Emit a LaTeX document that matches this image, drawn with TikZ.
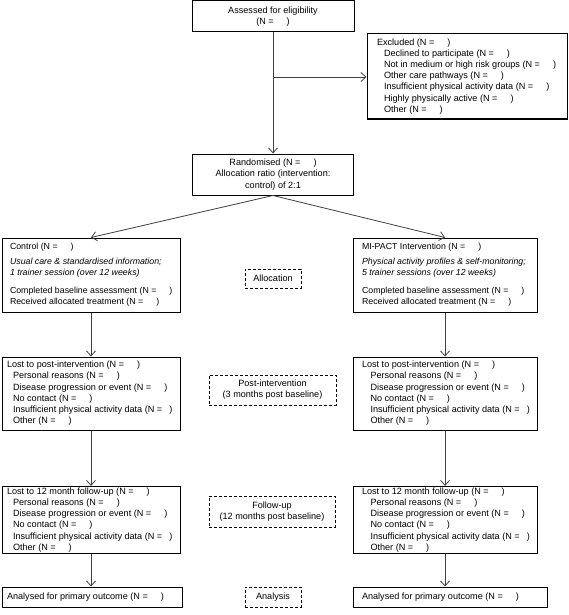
\documentclass[tikz,border=0pt]{standalone}
\usepackage{fontspec}
\setmainfont{Liberation Sans}
\usetikzlibrary{arrows.meta}
\newcommand{\Ngap}{(N =\hspace{13pt})}
\newcommand{\Nsm}{(N =\hspace{7pt})}
\newcommand{\indL}{\hspace*{6pt}}
\newcommand{\indR}{\hspace*{8.5pt}}
\newcommand{\bx}[2]{\makebox[#1][l]{\begin{tabular}{@{}l@{}}#2\end{tabular}}}
\begin{document}
\begin{tikzpicture}[x=1pt,y=-1pt,
 every node/.style={font=\fontsize{9.1}{11.2}\selectfont},
 box/.style={draw, line width=1pt, inner ysep=0pt, inner xsep=0pt},
 small/.style={font=\fontsize{8.8}{11}\selectfont},
 dbox/.style={draw, dash pattern=on 3pt off 2pt, line width=0.9pt, align=center, inner sep=0pt},
 conn/.style={draw=black!75, line width=0.8pt, -{Straight Barb[length=5pt,width=9pt]}},
]
\useasboundingbox (0,0) rectangle (568,615);

\node[box, align=center, minimum width=162pt, minimum height=31pt] (assess) at (273,16.5) {Assessed for eligibility\\\Ngap};

\node[box, inner xsep=10pt, minimum height=85pt] (excl) at (467,76.5)
 {\bx{180pt}{Excluded \Ngap\\\hspace*{7pt}Declined to participate \Ngap\\\hspace*{7pt}Not in medium or high risk groups \Ngap\\\hspace*{7pt}Other care pathways \Ngap\\\hspace*{7pt}Insufficient physical activity data \Ngap\\\hspace*{7pt}Highly physically active \Ngap\\\hspace*{7pt}Other \Ngap}};

\node[box, align=center, minimum width=161pt, minimum height=41pt] (rand) at (273,174.5)
 {Randomised \Ngap\\Allocation ratio (intervention:\\control) of 2:1};

\node[box, small, inner xsep=8pt, minimum height=74pt] (ctrl) at (91,275)
 {\bx{162pt}{Control \Ngap\\[3.5pt]\textit{Usual care \& standardised information;}\\\textit{1 trainer session (over 12 weeks)}\\[7.5pt]Completed baseline assessment \Ngap\\Received allocated treatment \Ngap}};

\node[box, small, inner xsep=9pt, minimum height=74pt] (mi) at (445,275)
 {\bx{166pt}{MI-PACT Intervention \Ngap\\[3.5pt]\textit{Physical activity profiles \& self-monitoring;}\\\textit{5 trainer sessions (over 12 weeks)}\\[7.5pt]Completed baseline assessment \Ngap\\Received allocated treatment \Ngap}};

\node[box, inner xsep=5pt, minimum height=73pt] (lpL) at (91,393.5)
 {\bx{168pt}{Lost to post-intervention \Ngap\\\indL Personal reasons \Ngap\\\indL Disease progression or event \Ngap\\\indL No contact \Ngap\\\indL Insufficient physical activity data \Nsm\\\indL Other \Ngap}};
\node[box, inner xsep=9pt, minimum height=73pt] (lpR) at (445,393.5)
 {\bx{166pt}{Lost to post-intervention \Ngap\\\indR Personal reasons \Ngap\\\indR Disease progression or event \Ngap\\\indR No contact \Ngap\\\indR Insufficient physical activity data \Nsm\\\indR Other \Ngap}};

\node[box, inner xsep=5pt, minimum height=66pt] (lfL) at (91,520)
 {\bx{168pt}{Lost to 12 month follow-up \Ngap\\\indL Personal reasons \Ngap\\\indL Disease progression or event \Ngap\\\indL No contact \Ngap\\\indL Insufficient physical activity data \Nsm\\\indL Other \Ngap}};
\node[box, inner xsep=9pt, minimum height=66pt] (lfR) at (445,520)
 {\bx{166pt}{Lost to 12 month follow-up \Ngap\\\indR Personal reasons \Ngap\\\indR Disease progression or event \Ngap\\\indR No contact \Ngap\\\indR Insufficient physical activity data \Nsm\\\indR Other \Ngap}};

\node[box, inner xsep=5pt, minimum height=20pt] (anL) at (92,597) {\bx{170pt}{Analysed for primary outcome \Ngap}};
\node[box, inner xsep=9pt, minimum height=20pt] (anR) at (450,597) {\bx{176pt}{Analysed for primary outcome \Ngap}};

\node[dbox, minimum width=56pt, minimum height=19pt] (alloc) at (273,278.5) {Allocation};
\node[dbox, minimum width=127pt, minimum height=30pt] (post) at (272.5,390) {Post-intervention\\(3 months post baseline)};
\node[dbox, minimum width=126pt, minimum height=31pt] (fol) at (272,511.5) {Follow-up\\(12 months post baseline)};
\node[dbox, minimum width=56pt, minimum height=20pt] (ana) at (273,597) {Analysis};

\coordinate (br) at (273,77);
\draw[conn] (assess.south) -- (rand.north);
\draw[conn] (br) -- (br -| excl.west);
\draw[conn] (rand.south) -- (ctrl.north);
\draw[conn] (rand.south) -- (mi.north);
\draw[conn] (ctrl.south) -- (lpL.north);
\draw[conn] (mi.south) -- (lpR.north);
\draw[conn] (lpL.south) -- (lfL.north);
\draw[conn] (lpR.south) -- (lfR.north);
\draw[conn] (lfL.south) -- (lfL.south |- anL.north);
\draw[conn] (lfR.south) -- (lfR.south |- anR.north);
\end{tikzpicture}
\end{document}
